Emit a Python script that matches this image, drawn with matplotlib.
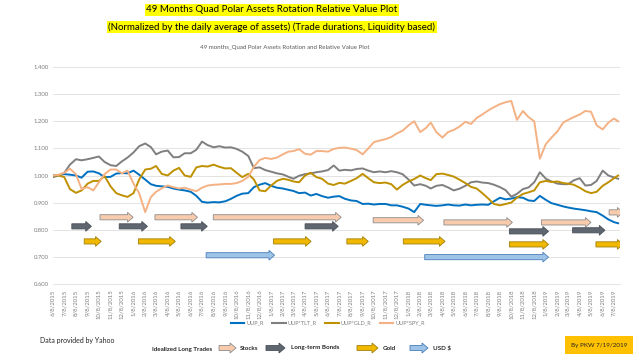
import matplotlib
matplotlib.use("Agg")
import matplotlib.pyplot as plt
import matplotlib.dates as mdates
from matplotlib.patches import FancyArrow, Rectangle
from matplotlib.lines import Line2D
import pandas as pd

# ---------------- data ----------------
# sample dates: the 8th and 23rd of every month, 6/8/2015 .. 7/8/2019, plus the last day 7/19/2019
sample_dates = []
for m in pd.date_range(start="2015-06-01", end="2019-07-01", freq="MS"):
    sample_dates.append(m + pd.Timedelta(days=7))
    if m < pd.Timestamp("2019-07-01"):
        sample_dates.append(m + pd.Timedelta(days=22))
sample_dates.append(pd.Timestamp("2019-07-19"))

uup_r = [1.000, 1.002, 1.005, 1.003, 1.000, 0.992, 1.014, 1.015, 1.008, 0.994,
         0.995, 1.007, 1.009, 1.008, 1.018, 1.003, 0.985, 0.968, 0.962, 0.960,
         0.958, 0.952, 0.948, 0.945, 0.940, 0.925, 0.903, 0.900, 0.902, 0.901,
         0.905, 0.914, 0.925, 0.933, 0.935, 0.957, 0.966, 0.972, 0.962, 0.955,
         0.952, 0.947, 0.943, 0.935, 0.937, 0.926, 0.932, 0.924, 0.918, 0.922,
         0.924, 0.914, 0.908, 0.906, 0.895, 0.896, 0.893, 0.895, 0.895, 0.890,
         0.890, 0.885, 0.878, 0.865, 0.895, 0.892, 0.890, 0.888, 0.890, 0.893,
         0.890, 0.889, 0.893, 0.890, 0.892, 0.893, 0.892, 0.905, 0.918, 0.912,
         0.915, 0.920, 0.918, 0.908, 0.906, 0.925, 0.910, 0.898, 0.892, 0.886,
         0.882, 0.878, 0.875, 0.872, 0.868, 0.865, 0.852, 0.838, 0.828, 0.824]

uup_tlt_r = [0.994, 1.000, 1.010, 1.040, 1.060, 1.056, 1.060, 1.065, 1.070, 1.050,
             1.038, 1.035, 1.052, 1.066, 1.085, 1.108, 1.118, 1.105, 1.078, 1.088,
             1.092, 1.067, 1.068, 1.082, 1.082, 1.095, 1.125, 1.112, 1.104, 1.108,
             1.103, 1.104, 1.098, 1.088, 1.072, 1.027, 1.030, 1.020, 1.014, 1.008,
             1.004, 0.995, 0.988, 0.999, 1.005, 1.008, 1.012, 1.015, 1.020, 1.037,
             1.018, 1.021, 1.019, 1.024, 1.026, 1.018, 1.012, 1.015, 1.012, 1.016,
             1.012, 1.005, 0.985, 0.963, 0.968, 0.962, 0.952, 0.962, 0.965, 0.956,
             0.945, 0.951, 0.962, 0.975, 0.978, 0.974, 0.972, 0.966, 0.957, 0.946,
             0.922, 0.932, 0.950, 0.956, 0.975, 1.012, 0.988, 0.978, 0.970, 0.968,
             0.968, 0.982, 0.990, 0.963, 0.965, 0.980, 1.018, 1.000, 0.993, 0.988]

uup_gld_r = [1.000, 1.000, 0.994, 0.950, 0.936, 0.945, 0.970, 0.980, 0.980, 0.998,
             0.960, 0.935, 0.927, 0.921, 0.935, 0.985, 1.022, 1.025, 1.035, 1.006,
             1.000, 1.018, 1.028, 1.000, 0.995, 1.030, 1.035, 1.033, 1.040, 1.032,
             1.026, 1.027, 1.010, 0.994, 1.006, 0.985, 0.945, 0.942, 0.963, 0.980,
             0.988, 0.984, 0.978, 0.975, 1.000, 1.010, 0.994, 0.988, 0.970, 0.965,
             0.973, 0.970, 0.980, 0.990, 1.006, 0.990, 0.975, 0.972, 0.974, 0.968,
             0.948, 0.965, 0.978, 0.987, 1.000, 0.990, 0.983, 1.005, 1.007, 1.002,
             0.996, 0.985, 0.972, 0.958, 0.952, 0.935, 0.915, 0.895, 0.890, 0.895,
             0.900, 0.918, 0.932, 0.938, 0.945, 0.975, 0.980, 0.976, 0.978, 0.972,
             0.970, 0.966, 0.955, 0.942, 0.935, 0.940, 0.962, 0.975, 0.990, 1.000]

uup_spy_r = [1.000, 1.003, 1.010, 1.025, 1.005, 0.950, 0.957, 0.945, 0.975, 1.005,
             1.022, 1.022, 1.008, 1.018, 0.970, 0.935, 0.865, 0.920, 0.940, 0.953,
             0.963, 0.957, 0.952, 0.955, 0.948, 0.942, 0.955, 0.963, 0.966, 0.967,
             0.969, 0.969, 0.972, 0.980, 0.995, 1.032, 1.057, 1.065, 1.061, 1.066,
             1.078, 1.088, 1.090, 1.097, 1.080, 1.077, 1.090, 1.090, 1.088, 1.098,
             1.102, 1.103, 1.099, 1.094, 1.078, 1.100, 1.123, 1.129, 1.134, 1.142,
             1.155, 1.165, 1.185, 1.200, 1.160, 1.175, 1.195, 1.160, 1.140, 1.160,
             1.168, 1.180, 1.198, 1.190, 1.212, 1.225, 1.240, 1.252, 1.263, 1.270,
             1.275, 1.205, 1.238, 1.215, 1.200, 1.062, 1.116, 1.140, 1.163, 1.195,
             1.205, 1.215, 1.225, 1.238, 1.235, 1.185, 1.170, 1.195, 1.210, 1.200]

series_names = ["UUP_R", "UUP*TLT_R", "UUP*GLD_R", "UUP*SPY_R"]
series_colors = ["#0070c0", "#7f7f7f", "#bf9000", "#f4b183"]

# idealized long trades: (start, end, level)
stock_trades = [("2015-10-11", "2016-01-07", 0.846), ("2016-03-05", "2016-06-26", 0.846),
                ("2016-08-07", "2017-07-13", 0.846), ("2017-10-06", "2018-02-17", 0.835),
                ("2018-04-12", "2018-10-11", 0.827), ("2018-12-27", "2019-05-08", 0.827),
                ("2019-06-25", "2019-08-01", 0.864)]
bond_trades = [("2015-07-28", "2015-09-18", 0.8125), ("2015-12-01", "2016-02-14", 0.8125),
               ("2016-05-13", "2016-07-22", 0.8125), ("2017-04-08", "2017-07-05", 0.8125),
               ("2018-10-03", "2019-01-15", 0.794), ("2019-03-20", "2019-06-14", 0.798)]
gold_trades = [("2015-08-30", "2015-10-14", 0.757), ("2016-01-21", "2016-04-28", 0.757),
               ("2017-01-14", "2017-04-24", 0.757), ("2017-07-28", "2017-09-23", 0.757),
               ("2017-12-25", "2018-04-15", 0.757), ("2018-10-03", "2019-01-15", 0.746),
               ("2019-05-21", "2019-08-01", 0.746)]
usd_trades = [("2016-07-19", "2017-01-17", 0.706), ("2018-02-20", "2019-01-15", 0.699)]

trade_styles = {
    "Stocks": dict(fc="#f8cbad", ec="#8c8c8c"),
    "Long-term Bonds": dict(fc="#5f6670", ec="#4a5058"),
    "Gold": dict(fc="#f0b800", ec="#a0800a"),
    "USD $": dict(fc="#9dc3e6", ec="#4a7ebb"),
}

yticks = [0.6, 0.7, 0.8, 0.9, 1.0, 1.1, 1.2, 1.3, 1.4]

# ---------------- figure ----------------
plt.rcParams["font.family"] = ["Lato", "DejaVu Sans"]
fig = plt.figure(figsize=(6.4, 3.6), dpi=100)
fig.patch.set_facecolor("white")

W, H = 640.0, 360.0
def fx(px):
    return px / W
def fy(py):
    return 1 - py / H

ax = fig.add_axes([fx(53), fy(284), fx(620) - fx(53), fy(67) - fy(284)])

dates = mdates.date2num(sample_dates)
for vals, name, col in zip([uup_r, uup_tlt_r, uup_gld_r, uup_spy_r], series_names, series_colors):
    ax.plot(dates, vals, color=col, lw=1.4, label=name, solid_joinstyle="round")

def draw_trades(trades, style):
    for s, e, lvl in trades:
        x0 = mdates.date2num(pd.Timestamp(s))
        x1 = mdates.date2num(pd.Timestamp(e))
        arr = FancyArrow(x0, lvl, x1 - x0, 0, width=0.019, head_width=0.036,
                         head_length=15, length_includes_head=True,
                         fc=style["fc"], ec=style["ec"], lw=0.6, zorder=3)
        ax.add_patch(arr)

draw_trades(stock_trades, trade_styles["Stocks"])
draw_trades(bond_trades, trade_styles["Long-term Bonds"])
draw_trades(gold_trades, trade_styles["Gold"])
draw_trades(usd_trades, trade_styles["USD $"])

ax.set_ylim(0.6, 1.4)
ax.set_xlim(mdates.date2num(pd.Timestamp("2015-06-08")), mdates.date2num(pd.Timestamp("2019-07-24")))
ax.set_yticks(yticks)
ax.set_yticklabels([f"{v:.3f}" for v in yticks])
ticks = pd.date_range(start="2015-06-08", periods=50, freq=pd.DateOffset(months=1))
ax.set_xticks(mdates.date2num(list(ticks)))
ax.set_xticklabels([f"{d.month}/{d.day}/{d.year}" for d in ticks], rotation=90)
ax.tick_params(axis="both", length=0, labelsize=4.3, colors="#7f7f7f", pad=3)
ax.tick_params(axis="x", pad=4)
ax.grid(axis="y", color="#e3e3e3", lw=0.7)
ax.set_axisbelow(True)
for sp in ax.spines.values():
    sp.set_visible(False)
ax.spines["bottom"].set_visible(True)
ax.spines["bottom"].set_color("#e3e3e3")
ax.spines["bottom"].set_linewidth(0.7)

# chart title
fig.text(fx(285), fy(48), "49 months_Quad Polar Assets Rotation and Relative Value Plot",
         ha="center", va="center", fontsize=4.4, color="#595959")

# legend
handles = [Line2D([0], [0], color=c, lw=1.5) for c in series_colors]
fig.legend(handles, series_names, loc="center", bbox_to_anchor=(fx(328), fy(323)), ncol=4,
           frameon=False, fontsize=4.0, handlelength=2.4, columnspacing=1.5,
           handletextpad=0.4, labelcolor="#7f7f7f")

# main titles with highlight + underline
renderer = fig.canvas.get_renderer()
for txt, ypx in [("49 Months Quad Polar Assets Rotation Relative Value Plot", 10),
                 ("(Normalized by the daily average of assets) (Trade durations, Liquidity based)", 27)]:
    t = fig.text(fx(272), fy(ypx), txt, ha="center", va="center", fontsize=7.0, color="black",
                 bbox=dict(facecolor="#ffff00", edgecolor="none", pad=1.2))
    bb = t.get_window_extent(renderer=renderer)
    yline = bb.y0 + 0.5
    fig.add_artist(Line2D([bb.x0 / fig.bbox.width, bb.x1 / fig.bbox.width],
                          [yline / fig.bbox.height, yline / fig.bbox.height],
                          transform=fig.transFigure, color="black", lw=0.6))

# footer
fig.text(fx(40), fy(341), "Data provided by Yahoo", ha="left", va="center", fontsize=5.0, color="#262626")
fig.text(fx(152), fy(349), "Idealized Long Trades", ha="left", va="center", fontsize=4.5,
         color="#262626", fontweight="bold")

legend_items = [("Stocks", 219, 236, 240), ("Long-term Bonds", 266, 285, 291),
                ("Gold", 357, 378, 383), ("USD $", 410, 428, 433)]
for name, a0, a1, tx in legend_items:
    st = trade_styles[name]
    fig.add_artist(FancyArrow(fx(a0), fy(348), fx(a1) - fx(a0), 0, width=5 / H, head_width=10 / H,
                              head_length=6 / W, length_includes_head=True, transform=fig.transFigure,
                              fc=st["fc"], ec=st["ec"], lw=0.6))
    fig.text(fx(tx), fy(348), name, ha="left", va="center", fontsize=4.5, color="#262626",
             fontweight="bold")

fig.add_artist(Rectangle((fx(565), fy(354)), fx(633) - fx(565), fy(336) - fy(354),
                         transform=fig.transFigure, fc="#ffc000", ec="none"))
fig.text(fx(599), fy(345), "By PKW 7/19/2019", ha="center", va="center", fontsize=4.5, color="#262626")

fig.savefig("out.png", dpi=100, facecolor="white")
